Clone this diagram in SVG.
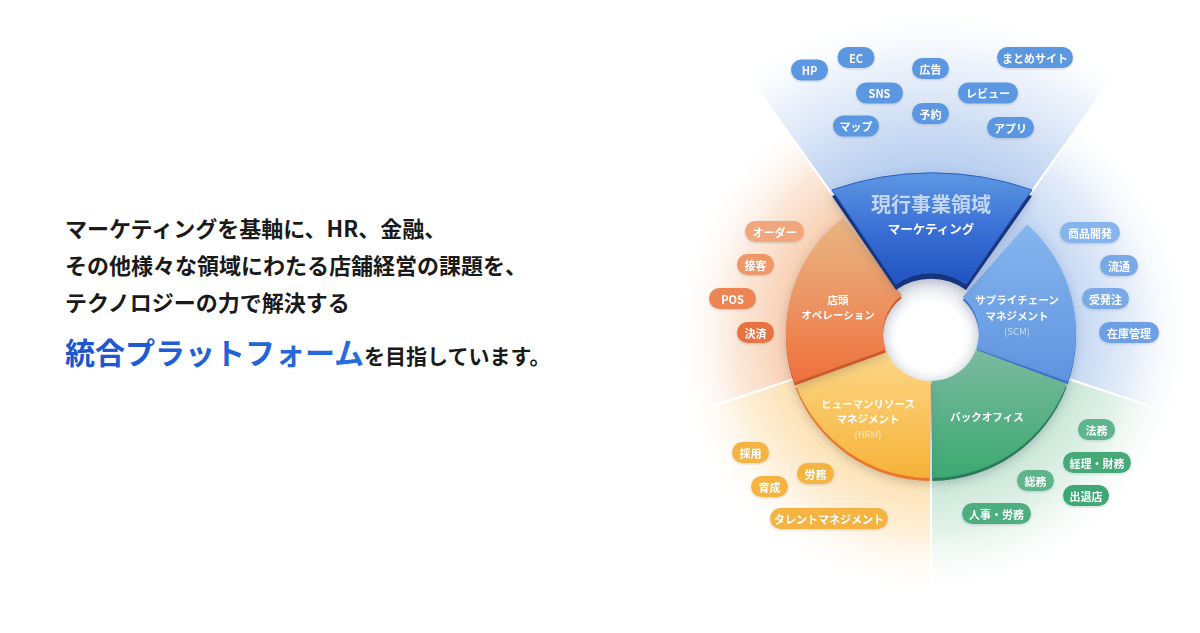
<svg xmlns="http://www.w3.org/2000/svg" width="1200" height="633" viewBox="0 0 1200 633">
<defs>
<style>
.jp{font-family:"Noto Sans CJK JP","Noto Sans",sans-serif;}
.pt{font-family:"Noto Sans CJK JP","Noto Sans",sans-serif;font-size:11px;font-weight:600;fill:#fff;text-anchor:middle;dominant-baseline:central;}
.sl{font-family:"Noto Sans CJK JP","Noto Sans",sans-serif;font-size:10.5px;font-weight:600;fill:#fff;text-anchor:middle;dominant-baseline:central;}
.sub{font-family:"Noto Sans CJK JP","Noto Sans",sans-serif;font-size:9.5px;font-weight:400;text-anchor:middle;dominant-baseline:central;}
.main{font-family:"Noto Sans CJK JP","Noto Sans",sans-serif;font-size:22px;font-weight:600;fill:#1a1a1a;}
.fan{stroke:#fff;stroke-width:2;}
.pb rect{fill:#5c97e1;}
.pr rect{fill:#79a9e7;}
.py rect{fill:#f5b443;}
</style>
<radialGradient id="gTop" gradientUnits="userSpaceOnUse" cx="931" cy="333" r="330">
<stop offset="0.42" stop-color="#adc7ee"/>
<stop offset="0.62" stop-color="#cbdbf3"/>
<stop offset="0.82" stop-color="#e3ecf9" stop-opacity="0.7"/>
<stop offset="1" stop-color="#ffffff" stop-opacity="0"/>
</radialGradient>
<radialGradient id="gRight" gradientUnits="userSpaceOnUse" cx="931" cy="333" r="265">
<stop offset="0.5" stop-color="#bcd2f1"/>
<stop offset="0.75" stop-color="#dbe6f7" stop-opacity="0.8"/>
<stop offset="1" stop-color="#ffffff" stop-opacity="0"/>
</radialGradient>
<radialGradient id="gLeft" gradientUnits="userSpaceOnUse" cx="931" cy="333" r="260">
<stop offset="0.5" stop-color="#f6c6a1"/>
<stop offset="0.75" stop-color="#fbe1cf" stop-opacity="0.8"/>
<stop offset="1" stop-color="#ffffff" stop-opacity="0"/>
</radialGradient>
<radialGradient id="gYel" gradientUnits="userSpaceOnUse" cx="931" cy="333" r="265">
<stop offset="0.5" stop-color="#fcdca4"/>
<stop offset="0.75" stop-color="#fdebcd" stop-opacity="0.8"/>
<stop offset="1" stop-color="#ffffff" stop-opacity="0"/>
</radialGradient>
<radialGradient id="gGrn" gradientUnits="userSpaceOnUse" cx="931" cy="333" r="265">
<stop offset="0.5" stop-color="#bfe2cf"/>
<stop offset="0.75" stop-color="#dcefe4" stop-opacity="0.8"/>
<stop offset="1" stop-color="#ffffff" stop-opacity="0"/>
</radialGradient>
<radialGradient id="gHole" gradientUnits="userSpaceOnUse" cx="931" cy="336" r="56">
<stop offset="0.6" stop-color="#ffffff"/>
<stop offset="1" stop-color="#dfe2e8"/>
</radialGradient>
<linearGradient id="gMkt" gradientUnits="userSpaceOnUse" x1="0" y1="172" x2="0" y2="285">
<stop offset="0" stop-color="#5f98e3"/>
<stop offset="0.5" stop-color="#3a70d5"/>
<stop offset="1" stop-color="#2152c0"/>
</linearGradient>
<linearGradient id="gOrg" gradientUnits="userSpaceOnUse" x1="0" y1="218" x2="0" y2="385">
<stop offset="0" stop-color="#e8b683"/>
<stop offset="0.5" stop-color="#ec9462"/>
<stop offset="1" stop-color="#ef6f3b"/>
</linearGradient>
<linearGradient id="gScm" gradientUnits="userSpaceOnUse" x1="0" y1="224" x2="0" y2="385">
<stop offset="0" stop-color="#86b6ee"/>
<stop offset="1" stop-color="#5e93df"/>
</linearGradient>
<linearGradient id="gBo" gradientUnits="userSpaceOnUse" x1="0" y1="345" x2="0" y2="480">
<stop offset="0" stop-color="#7dbba1"/>
<stop offset="1" stop-color="#3ba871"/>
</linearGradient>
<linearGradient id="gHrm" gradientUnits="userSpaceOnUse" x1="0" y1="345" x2="0" y2="480">
<stop offset="0" stop-color="#fdd98c"/>
<stop offset="1" stop-color="#f6b136"/>
</linearGradient>
<linearGradient id="gBig" x1="0" y1="0" x2="1" y2="0">
<stop offset="0" stop-color="#1c55cf"/>
<stop offset="1" stop-color="#2f7be6"/>
</linearGradient>
<filter id="sh" x="-20%" y="-20%" width="140%" height="140%">
<feDropShadow dx="0" dy="3" stdDeviation="4" flood-color="#3a4a66" flood-opacity="0.25"/>
</filter>
<filter id="psh" x="-20%" y="-40%" width="140%" height="180%">
<feDropShadow dx="0" dy="1" stdDeviation="1.2" flood-color="#334" flood-opacity="0.18"/>
</filter>
</defs>

<rect width="1200" height="633" fill="#ffffff"/>

<!-- left copy -->
<g id="copy">
<text class="main" x="65" y="237">マーケティングを基軸に、HR、金融、</text>
<text class="main" x="65" y="274">その他様々な領域にわたる店舗経営の課題を、</text>
<text class="main" x="65" y="311">テクノロジーの力で解決する</text>
<text class="jp" x="65" y="364"><tspan font-size="30" font-weight="700" fill="url(#gBig)">統合プラットフォーム</tspan><tspan font-size="21" font-weight="600" fill="#1a1a1a">を目指しています。</tspan></text>
</g>

<!-- background fans -->
<g id="fans">
<path class="fan" d="M931 333 L745.2 72.5 A320 320 0 0 1 1116.8 72.5 Z" fill="url(#gTop)"/>
<path class="fan" d="M931 333 L1116.8 72.5 A320 320 0 0 1 1234.5 434.5 Z" fill="url(#gRight)"/>
<path class="fan" d="M931 333 L1234.5 434.5 A320 320 0 0 1 931 653 Z" fill="url(#gGrn)"/>
<path class="fan" d="M931 333 L931 653 A320 320 0 0 1 627.5 434.5 Z" fill="url(#gYel)"/>
<path class="fan" d="M931 333 L627.5 434.5 A320 320 0 0 1 745.2 72.5 Z" fill="url(#gLeft)"/>
</g>

<g id="connectors"></g>

<!-- hole -->
<circle cx="931" cy="334" r="56" fill="url(#gHole)"/>

<!-- segments -->
<g id="seg-scm" filter="url(#sh)">
<path d="M1027.1 224.4 A145 145 0 0 1 1067.7 381.4 L976.2 349 A48 48 0 0 0 962.8 297 Z" fill="#3f72c8" transform="translate(0,3)"/>
<path d="M1027.1 224.4 A145 145 0 0 1 1067.7 381.4 L976.2 349 A48 48 0 0 0 962.8 297 Z" fill="url(#gScm)"/>
<text class="sl" x="1017" y="299">サプライチェーン</text>
<text class="sl" x="1017" y="315">マネジメント</text>
<text class="sub" x="1017" y="331" fill="#c9ddf6">(SCM)</text>
</g>

<g id="seg-backoffice" filter="url(#sh)">
<path d="M1066.8 383.8 A145 145 0 0 1 932.3 478 L931.4 381 A48 48 0 0 0 976 349.8 Z" fill="#2b7a5c" transform="translate(0,3)"/>
<path d="M1066.8 383.8 A145 145 0 0 1 932.3 478 L931.4 381 A48 48 0 0 0 976 349.8 Z" fill="url(#gBo)"/>
<text class="sl" x="987" y="416">バックオフィス</text>
</g>

<g id="seg-hrm" filter="url(#sh)">
<path d="M929.7 478 A145 145 0 0 1 795.6 385 L886.2 350.2 A48 48 0 0 0 930.6 381 Z" fill="#e9762c" transform="translate(0,3)"/>
<path d="M929.7 478 A145 145 0 0 1 795.6 385 L886.2 350.2 A48 48 0 0 0 930.6 381 Z" fill="url(#gHrm)"/>
<text class="sl" x="868" y="403">ヒューマンリソース</text>
<text class="sl" x="868" y="418">マネジメント</text>
<text class="sub" x="868" y="434" fill="#fbe6bd">(HRM)</text>
</g>

<g id="seg-store" filter="url(#sh)">
<path d="M794.7 382.6 A145 145 0 0 1 842.7 218 L901.8 294.9 A48 48 0 0 0 885.9 349.4 Z" fill="#c95a2c" transform="translate(0,3)"/>
<path d="M794.7 382.6 A145 145 0 0 1 842.7 218 L901.8 294.9 A48 48 0 0 0 885.9 349.4 Z" fill="url(#gOrg)"/>
<text class="sl" x="838" y="299">店頭</text>
<text class="sl" x="838" y="314">オペレーション</text>
</g>

<g id="seg-marketing" filter="url(#sh)">
<path d="M832 190 A300 300 0 0 1 1032 190 L966 284 A60 60 0 0 0 896 284 Z" fill="#14357e" transform="translate(0,6)"/>
<path d="M832 190 A300 300 0 0 1 1032 190 L966 284 A60 60 0 0 0 896 284 Z" fill="url(#gMkt)" stroke="#2a5fc4" stroke-width="1"/>
<text class="jp" x="931" y="203" font-size="20" font-weight="700" fill="#c3d6f3" text-anchor="middle" dominant-baseline="central">現行事業領域</text>
<text class="jp" x="931" y="228" font-size="12.5" font-weight="700" fill="#ffffff" text-anchor="middle" dominant-baseline="central">マーケティング</text>
</g>

<!-- top pills -->
<g id="p-hp" class="pb" filter="url(#psh)"><rect x="791" y="59.5" width="37" height="21" rx="10.5"/><text class="pt" x="809.5" y="70">HP</text></g>
<g id="p-ec" class="pb" filter="url(#psh)"><rect x="837.5" y="47" width="37" height="21" rx="10.5"/><text class="pt" x="856" y="57.5">EC</text></g>
<g id="p-ad" class="pb" filter="url(#psh)"><rect x="912" y="58" width="37" height="21" rx="10.5"/><text class="pt" x="930.5" y="68.5">広告</text></g>
<g id="p-matome" class="pb" filter="url(#psh)"><rect x="997" y="47" width="76" height="21" rx="10.5"/><text class="pt" x="1035" y="57.5">まとめサイト</text></g>
<g id="p-sns" class="pb" filter="url(#psh)"><rect x="856" y="82.5" width="47" height="21" rx="10.5"/><text class="pt" x="879.5" y="93">SNS</text></g>
<g id="p-review" class="pb" filter="url(#psh)"><rect x="958" y="82.5" width="60" height="21" rx="10.5"/><text class="pt" x="988" y="93">レビュー</text></g>
<g id="p-yoyaku" class="pb" filter="url(#psh)"><rect x="912" y="103" width="37" height="21" rx="10.5"/><text class="pt" x="930.5" y="113.5">予約</text></g>
<g id="p-map" class="pb" filter="url(#psh)"><rect x="833" y="115.5" width="46" height="21" rx="10.5"/><text class="pt" x="856" y="126">マップ</text></g>
<g id="p-app" class="pb" filter="url(#psh)"><rect x="987" y="117" width="47" height="21" rx="10.5"/><text class="pt" x="1010.5" y="127.5">アプリ</text></g>

<!-- right pills -->
<g id="p-shohin" class="pr" filter="url(#psh)"><rect x="1060" y="222" width="60" height="21" rx="10.5" style="fill:#86b4ec"/><text class="pt" x="1090" y="232.5">商品開発</text></g>
<g id="p-ryutsu" class="pr" filter="url(#psh)"><rect x="1100" y="255" width="38" height="21" rx="10.5"/><text class="pt" x="1119" y="265.5">流通</text></g>
<g id="p-juhatchu" class="pr" filter="url(#psh)"><rect x="1082" y="288" width="47" height="21" rx="10.5"/><text class="pt" x="1105.5" y="298.5">受発注</text></g>
<g id="p-zaiko" class="pr" filter="url(#psh)"><rect x="1099" y="322" width="60" height="21" rx="10.5" style="fill:#6c9fe3"/><text class="pt" x="1129" y="332.5">在庫管理</text></g>

<!-- left pills -->
<g id="p-order" filter="url(#psh)"><rect x="745" y="221" width="59" height="21" rx="10.5" fill="#f0a77d"/><text class="pt" x="774.5" y="231.5">オーダー</text></g>
<g id="p-sekkyaku" filter="url(#psh)"><rect x="737" y="254" width="37" height="21" rx="10.5" fill="#ee9867"/><text class="pt" x="755.5" y="264.5">接客</text></g>
<g id="p-pos" filter="url(#psh)"><rect x="709" y="288" width="47" height="21" rx="10.5" fill="#ec8553"/><text class="pt" x="732.5" y="298.5">POS</text></g>
<g id="p-kessai" filter="url(#psh)"><rect x="737" y="322" width="37" height="21" rx="10.5" fill="#e97340"/><text class="pt" x="755.5" y="332.5">決済</text></g>

<!-- HRM pills -->
<g id="p-saiyo" class="py" filter="url(#psh)"><rect x="732" y="442" width="37" height="21" rx="10.5"/><text class="pt" x="750.5" y="452.5">採用</text></g>
<g id="p-romu" class="py" filter="url(#psh)"><rect x="797" y="463" width="37" height="21" rx="10.5"/><text class="pt" x="815.5" y="473.5">労務</text></g>
<g id="p-ikusei" class="py" filter="url(#psh)"><rect x="751" y="476" width="37" height="21" rx="10.5"/><text class="pt" x="769.5" y="486.5">育成</text></g>
<g id="p-talent" class="py" filter="url(#psh)"><rect x="770" y="508" width="118" height="21" rx="10.5"/><text class="pt" x="829" y="518.5">タレントマネジメント</text></g>

<!-- back office pills -->
<g id="p-homu" filter="url(#psh)"><rect x="1078" y="419" width="37" height="21" rx="10.5" fill="#5cb58d"/><text class="pt" x="1096.5" y="429.5">法務</text></g>
<g id="p-keiri" filter="url(#psh)"><rect x="1063" y="452" width="68" height="21" rx="10.5" fill="#44aa78"/><text class="pt" x="1097" y="462.5">経理・財務</text></g>
<g id="p-somu" filter="url(#psh)"><rect x="1017" y="470" width="37" height="21" rx="10.5" fill="#5db58c"/><text class="pt" x="1035.5" y="480.5">総務</text></g>
<g id="p-shuttai" filter="url(#psh)"><rect x="1063" y="485" width="46" height="21" rx="10.5" fill="#3ea873"/><text class="pt" x="1086" y="495.5">出退店</text></g>
<g id="p-jinji" filter="url(#psh)"><rect x="962" y="503" width="69" height="21" rx="10.5" fill="#4daf80"/><text class="pt" x="996.5" y="513.5">人事・労務</text></g>
</svg>
